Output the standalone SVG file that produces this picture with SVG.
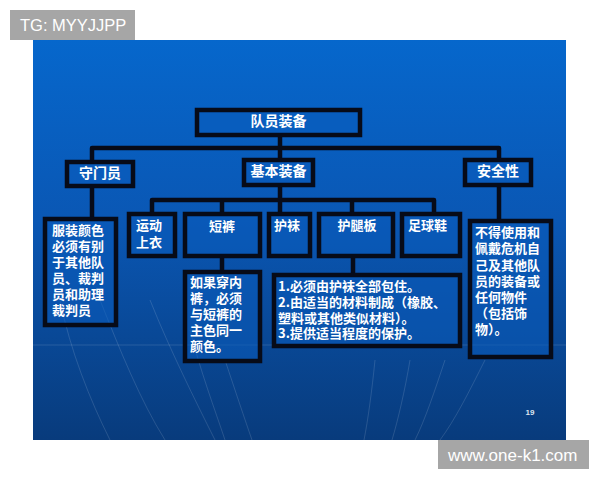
<svg xmlns="http://www.w3.org/2000/svg" width="600" height="480" viewBox="0 0 600 480">
<defs>
<linearGradient id="bg" x1="0" y1="0" x2="0" y2="1">
<stop offset="0" stop-color="#0667cc"/>
<stop offset="0.45" stop-color="#0a57b4"/>
<stop offset="1" stop-color="#083b7c"/>
</linearGradient>
<style>
.box{fill:#0a5bbb;fill-opacity:0.55;stroke:#070b18;stroke-width:4.5}
.con{fill:none;stroke:#070b18;stroke-width:4.5;stroke-linejoin:round;stroke-linecap:square}
.t{font-family:"Noto Sans CJK SC","Noto Sans",sans-serif;font-weight:bold;fill:#ffffff}
.h{font-size:14px;text-anchor:middle}
.b{font-size:13px}
.deco{fill:none;stroke:#ffffff;stroke-opacity:0.13;stroke-width:1}
.wm{font-family:"Liberation Sans",Arial,sans-serif;fill:#ffffff}
</style>
</defs>
<rect x="0" y="0" width="600" height="480" fill="#ffffff"/>
<rect x="33" y="40" width="533" height="400" fill="url(#bg)"/>
<g id="decor">
<path class="deco" d="M60,300 C70,350 90,400 110,440"/>
<path class="deco" d="M100,300 C120,350 140,400 165,440"/>
<path class="deco" d="M150,300 C170,350 195,400 215,440"/>
<path class="deco" d="M190,330 C200,370 215,410 225,440"/>
<path class="deco" d="M225,360 C235,390 245,420 252,440"/>
<path class="deco" d="M375,360 C372,390 368,420 364,440"/>
<path class="deco" d="M410,360 C405,390 398,420 392,440"/>
<path class="deco" d="M445,360 C435,390 425,420 415,440"/>
<path class="deco" d="M485,360 C470,390 455,420 440,440"/>
<path class="deco" d="M33,345 H566" stroke-opacity="0.06"/>
</g>
<g id="connectors">
<path class="con" d="M92,160 V148 H499 V158 M280,137 V158"/>
<path class="con" d="M152,212 V200 H434 V212 M222,200 V212 M352,200 V212 M280,187 V212"/>
<path class="con" d="M92,188 V217 M499,187 V219 M222,258 V270 M353,258 V273"/>
</g>
<g id="n-root"><rect class="box" x="197" y="110" width="163" height="25"/><text class="t h" x="278.5" y="126">队员装备</text></g>
<g id="n-gk"><rect class="box" x="67" y="162" width="66" height="24"/><text class="t h" x="100" y="178">守门员</text></g>
<g id="n-basic"><rect class="box" x="244" y="160" width="69" height="25"/><text class="t h" x="278.5" y="176">基本装备</text></g>
<g id="n-safe"><rect class="box" x="465" y="160" width="66" height="25"/><text class="t h" x="498" y="176">安全性</text></g>
<g id="n-shirt"><rect class="box" x="129" y="214" width="46" height="42"/><text class="t b" x="136" y="230">运动<tspan x="136" dy="17">上衣</tspan></text></g>
<g id="n-shorts"><rect class="box" x="185" y="214" width="75" height="42"/><text class="t b" x="222" y="231" text-anchor="middle">短裤</text></g>
<g id="n-socks"><rect class="box" x="269" y="214" width="41" height="42"/><text class="t b" x="274" y="230">护袜</text></g>
<g id="n-guard"><rect class="box" x="319" y="214" width="74" height="42"/><text class="t b" x="357" y="230" text-anchor="middle">护腿板</text></g>
<g id="n-boots"><rect class="box" x="402" y="214" width="58" height="42"/><text class="t b" x="408" y="230">足球鞋</text></g>
<g id="n-gk-desc"><rect class="box" x="45" y="219" width="71" height="106"/>
<text class="t b" x="52" y="235">服装颜色<tspan x="52" dy="16">必须有别</tspan><tspan x="52" dy="16">于其他队</tspan><tspan x="52" dy="16">员、裁判</tspan><tspan x="52" dy="16">员和助理</tspan><tspan x="52" dy="16">裁判员</tspan></text>
</g>
<g id="n-shorts-desc"><rect class="box" x="185" y="272" width="75" height="89"/>
<text class="t b" x="190" y="287">如果穿内<tspan x="190" dy="16">裤，必须</tspan><tspan x="190" dy="16">与短裤的</tspan><tspan x="190" dy="16">主色同一</tspan><tspan x="190" dy="16">颜色。</tspan></text>
</g>
<g id="n-guard-desc"><rect class="box" x="274" y="275" width="186" height="71"/>
<text class="t b" x="278" y="291">1.必须由护袜全部包住。<tspan x="278" dy="16">2.由适当的材料制成（橡胶、</tspan><tspan x="278" dy="15.5">塑料或其他类似材料）。</tspan><tspan x="278" dy="15.5">3.提供适当程度的保护。</tspan></text>
</g>
<g id="n-safe-desc"><rect class="box" x="470" y="221" width="81" height="136"/>
<text class="t b" x="475" y="237">不得使用和<tspan x="475" dy="16">佩戴危机自</tspan><tspan x="475" dy="16.5">己及其他队</tspan><tspan x="475" dy="16">员的装备或</tspan><tspan x="475" dy="16">任何物件</tspan><tspan x="475" dy="16">（包括饰</tspan><tspan x="475" dy="16">物）。</tspan></text>
</g>
<text x="530" y="415" font-family="'Liberation Sans',Arial,sans-serif" font-weight="bold" font-size="8" fill="#dfe6f0" text-anchor="middle">19</text>
<g id="watermark-tl"><rect x="10" y="10" width="125" height="30" fill="#a6a6a6"/><text class="wm" x="20" y="31" font-size="16.5">TG: MYYJJPP</text></g>
<g id="watermark-br"><rect x="438" y="440" width="151" height="29" fill="#a6a6a6"/><text class="wm" x="448" y="461" font-size="17">www.one-k1.com</text></g>
</svg>
